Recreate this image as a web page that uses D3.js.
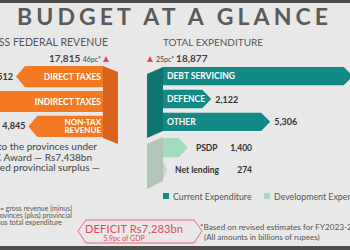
<!DOCTYPE html>
<html>
<head>
<style>
  html, body { margin: 0; padding: 0; background: #e8e8e8; }
  svg { display: block; font-family: Lato, "Open Sans", sans-serif; }
</style>
</head>
<body>
<svg width="350" height="250"></svg>
<script src="https://d3js.org/d3.v7.min.js"></script>
<script>
const revenueLabels = ["DIRECT TAXES", "INDIRECT TAXES", "NON-TAX|REVENUE"];
const revenueValues = [5512, 7458, 4845];
const currentLabels = ["DEBT SERVICING", "DEFENCE", "OTHER"];
const currentValues = [9775, 2122, 5306];
const devLabels = ["PSDP", "Net lending"];
const devValues = [1400, 274];
const totalValues = ["17,815", "18,877"];
const totalGrowth = ["46pc*", "25pc*"];
const legendLabels = ["Current Expenditure", "Development Expenditure"];

const orange = "#f37a22", orangeDark = "#d9631c";
const teal = "#138a86", tealDark = "#0f7571";
const devColors = ["#a3dcbc", "#c4d9ca"], devFold = "#b3c5b9";
const red = "#e6475a";
const fmt = d3.format(",");

const svg = d3.select("svg");
const len = d3.scaleLinear().domain([0, 10000]).range([0, 185]);

// frame bars
svg.append("rect").attr("x", 0).attr("y", 0).attr("width", 350).attr("height", 3).attr("fill", "#4d4d4d");
svg.append("rect").attr("x", 0).attr("y", 246).attr("width", 350).attr("height", 4).attr("fill", "#4d4d4d");

svg.append("text").attr("x", 17).attr("y", 25)
  .attr("textLength", 311).attr("lengthAdjust", "spacing")
  .attr("font-size", 23).attr("font-weight", 700).attr("fill", "#5a5a5a")
  .text("BUDGET AT A GLANCE");

// ---- left: revenue ----
svg.append("text").attr("x", 108).attr("y", 46).attr("text-anchor", "end")
  .attr("font-size", 10.5).attr("fill", "#555").text("GROSS FEDERAL REVENUE");
const lt = svg.append("text").attr("x", 101).attr("y", 62).attr("text-anchor", "end").attr("fill", "#444");
lt.append("tspan").attr("font-size", 10).attr("font-weight", 700).text(totalValues[0] + " ");
lt.append("tspan").attr("font-size", 7).text(totalGrowth[0]);
svg.append("path").attr("d", "M103,62 L106,56 L109,62 Z").attr("fill", red);

const yL = d3.scaleBand().domain(revenueLabels).range([66, 137]).paddingInner(0.15);
const leftOrigin = 118, leftEdge = 103;
svg.append("polygon")
  .attr("points", [[leftEdge, 66], [leftOrigin, 72], [leftOrigin, 144], [leftEdge, 138]].join(" "))
  .attr("fill", orangeDark);
svg.selectAll(".rev").data(revenueValues).join("polygon")
  .attr("points", (d, i) => {
    const y0 = yL(revenueLabels[i]), y1 = y0 + yL.bandwidth();
    const tip = leftOrigin - len(d);
    return [[leftEdge, y0], [tip + 9, y0], [tip, (y0 + y1) / 2], [tip + 9, y1], [leftEdge, y1]].join(" ");
  })
  .attr("fill", orange);
revenueLabels.forEach((lab, i) => {
  const y0 = yL(lab), h = yL.bandwidth();
  const parts = lab.split("|");
  if (parts.length === 1) {
    svg.append("text").attr("x", 101).attr("y", y0 + h / 2 + 3).attr("text-anchor", "end")
      .attr("font-size", 8.5).attr("font-weight", 700).attr("fill", "#fff").text(lab);
  } else {
    parts.forEach((p, j) => svg.append("text").attr("x", 101).attr("y", y0 + 9 + j * 8.5)
      .attr("text-anchor", "end").attr("font-size", 8).attr("font-weight", 700).attr("fill", "#fff").text(p));
  }
  svg.append("text").attr("x", leftOrigin - len(revenueValues[i]) - 3).attr("y", y0 + h / 2 + 3)
    .attr("text-anchor", "end").attr("font-size", 9).attr("font-weight", 700).attr("fill", "#333")
    .text(fmt(revenueValues[i]));
});

const note1 = [["Transfers to the provinces under", 97], ["NFC Award \u2014 Rs7,438bn", 92], ["Projected provincial surplus \u2014", 100]];
note1.forEach((n, i) => svg.append("text").attr("x", n[1]).attr("y", 150 + i * 10.5)
  .attr("text-anchor", "end").attr("font-size", 10).attr("fill", "#444").text(n[0]));
const note2 = [["*Deficit = gross revenue (minus)", 72], ["transfers to provinces (plus) provincial", 72], ["surplus minus total expenditure", 62]];
note2.forEach((n, i) => svg.append("text").attr("x", n[1]).attr("y", 211 + i * 7)
  .attr("text-anchor", "end").attr("font-size", 7).attr("fill", "#555").text(n[0]));

// deficit box
svg.append("polygon").attr("points", [[78, 231], [86, 220], [194, 220], [202, 231], [194, 243], [86, 243]].join(" "))
  .attr("fill", "none").attr("stroke", red).attr("stroke-width", 0.8);
svg.append("text").attr("x", 134).attr("y", 233).attr("text-anchor", "middle")
  .attr("font-size", 11).attr("fill", red).attr("textLength", 98).attr("lengthAdjust", "spacing")
  .text("DEFICIT Rs7,283bn");
svg.append("text").attr("x", 124).attr("y", 241).attr("text-anchor", "middle")
  .attr("font-size", 7).attr("fill", red).text("5.9pc of GDP");

// ---- right: expenditure ----
svg.append("text").attr("x", 163).attr("y", 46)
  .attr("font-size", 10).attr("fill", "#555").text("TOTAL EXPENDITURE");
svg.append("path").attr("d", "M147,62 L150,56 L153,62 Z").attr("fill", red);
const rt = svg.append("text").attr("x", 156).attr("y", 62).attr("fill", "#444");
rt.append("tspan").attr("font-size", 7).text(totalGrowth[1] + " ");
rt.append("tspan").attr("font-size", 10).attr("font-weight", 700).text(totalValues[1]);

const barLeft = 163, curOrigin = 172, devOrigin = 162;
const yC = d3.scaleBand().domain(currentLabels).range([67, 131]).paddingInner(0.2);
const yD = d3.scaleBand().domain(devLabels).range([138, 180]).paddingInner(0.15);

svg.append("polygon").attr("points", [[barLeft, 67], [147, 74], [147, 138], [barLeft, 131]].join(" "))
  .attr("fill", tealDark);
svg.append("polygon").attr("points", [[barLeft, 137], [147, 144], [147, 189], [barLeft, 181]].join(" "))
  .attr("fill", devFold);

function arrowRight(y0, y1, tip) {
  const base = Math.max(barLeft, tip - 9);
  return [[barLeft, y0], [base, y0], [tip, (y0 + y1) / 2], [base, y1], [barLeft, y1]].join(" ");
}
svg.selectAll(".cur").data(currentValues).join("polygon")
  .attr("points", (d, i) => {
    const y0 = yC(currentLabels[i]);
    return arrowRight(y0, y0 + yC.bandwidth(), curOrigin + len(d));
  })
  .attr("fill", teal);
currentLabels.forEach((lab, i) => {
  const y0 = yC(lab), h = yC.bandwidth();
  svg.append("text").attr("x", 167).attr("y", y0 + h / 2 + 3)
    .attr("font-size", 8.5).attr("font-weight", 700).attr("fill", "#fff").text(lab);
  const tip = curOrigin + len(currentValues[i]);
  if (tip < 340) svg.append("text").attr("x", tip + 4).attr("y", y0 + h / 2 + 3.5)
    .attr("font-size", 9).attr("font-weight", 700).attr("fill", "#333").text(fmt(currentValues[i]));
});

svg.selectAll(".dev").data(devValues).join("polygon")
  .attr("points", (d, i) => {
    const y0 = yD(devLabels[i]);
    return arrowRight(y0, y0 + yD.bandwidth(), devOrigin + len(d));
  })
  .attr("fill", (d, i) => devColors[i]);
devLabels.forEach((lab, i) => {
  const y0 = yD(lab), h = yD.bandwidth();
  const tip = devOrigin + len(devValues[i]);
  svg.append("text").attr("x", tip + 8).attr("y", y0 + h / 2 + 3)
    .attr("font-size", 8.5).attr("font-weight", 700).attr("fill", "#333").text(lab);
  svg.append("text").attr("x", 252).attr("y", y0 + h / 2 + 3).attr("text-anchor", "end")
    .attr("font-size", 8.5).attr("font-weight", 700).attr("fill", "#333").text(fmt(devValues[i]));
});

// legend
const legX = [163, 264];
legendLabels.forEach((lab, i) => {
  svg.append("rect").attr("x", legX[i]).attr("y", 193).attr("width", 6).attr("height", 6)
    .attr("fill", i === 0 ? teal : devColors[0]);
  svg.append("text").attr("x", legX[i] + 10).attr("y", 199.5)
    .attr("font-size", 8.8).attr("fill", "#555").text(lab);
});

svg.append("text").attr("x", 200).attr("y", 230).attr("font-size", 8.2).attr("fill", "#555")
  .text("*Based on revised estimates for FY2023-24");
svg.append("text").attr("x", 204).attr("y", 240).attr("font-size", 8).attr("fill", "#555")
  .text("(All amounts in billions of rupees)");
</script>
</body>
</html>
